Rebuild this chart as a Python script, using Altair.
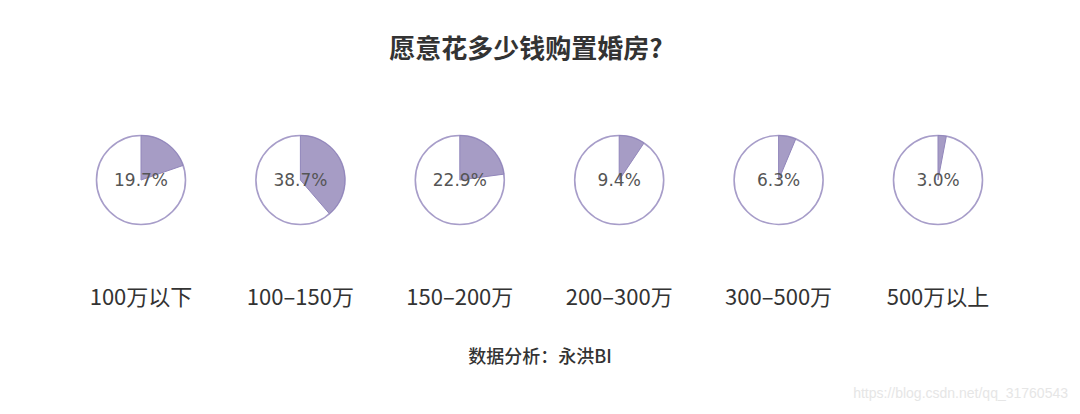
import altair as alt
import pandas as pd
import math

categories = ["100万以下", "100–150万", "150–200万", "200–300万", "300–500万", "500万以上"]
shares = [0.197, 0.387, 0.229, 0.094, 0.063, 0.030]
labels = ["19.7%", "38.7%", "22.9%", "9.4%", "6.3%", "3.0%"]
title_text = "愿意花多少钱购置婚房?"
footer_text = "数据分析：永洪BI"
watermark_text = "https://blog.csdn.net/qq_31760543"

df = pd.DataFrame({
    "cat": categories,
    "share": shares,
    "label": labels,
    "zero": [0.0] * len(categories),
    "full": [1.0] * len(categories),
})

W, H = 1064, 398
xscale = alt.Scale(domain=categories, type="point", range=[133, 930], padding=0)
tscale = alt.Scale(domain=[0, 1], range=[0, 2 * math.pi])
X = alt.X("cat:N", scale=xscale, axis=None)
cy = 172

base = alt.Chart(df)

circle = base.mark_arc(radius=44.5, fill="white", stroke="#a79dc9", strokeWidth=1.6).encode(
    x=X, y=alt.value(cy),
    theta=alt.Theta("zero:Q", scale=tscale), theta2="full",
)
wedge = base.mark_arc(radius=44.5, fill="#a69cc5", stroke="#9186bb", strokeWidth=1).encode(
    x=X, y=alt.value(cy),
    theta=alt.Theta("zero:Q", scale=tscale), theta2="share",
)
pct = base.mark_text(fontSize=17, color="#555555", font="DejaVu Sans", baseline="middle").encode(
    x=X, y=alt.value(cy + 1), text="label:N",
)
catlab = base.mark_text(fontSize=22, color="#333333", font="Noto Sans CJK SC",
                        baseline="middle").encode(
    x=X, y=alt.value(290), text="cat:N",
)

tdf = pd.DataFrame({"t": [title_text]})
title = alt.Chart(tdf).mark_text(fontSize=26, fontWeight="bold", color="#333333",
                                 font="Noto Sans CJK SC", baseline="middle").encode(
    x=alt.value(518), y=alt.value(42), text="t:N")

fdf = pd.DataFrame({"t": [footer_text]})
footer = alt.Chart(fdf).mark_text(fontSize=18, fontWeight=500, color="#333333",
                                  font="Noto Sans CJK SC", baseline="middle").encode(
    x=alt.value(532), y=alt.value(350), text="t:N")

wdf = pd.DataFrame({"t": [watermark_text]})
wm = alt.Chart(wdf).mark_text(fontSize=14, color="#e6e6e6", font="Liberation Sans",
                              align="right", baseline="middle").encode(
    x=alt.value(1060), y=alt.value(386), text="t:N")

chart = alt.layer(circle, wedge, pct, catlab, title, footer, wm).properties(
    width=W, height=H, padding=0, autosize=alt.AutoSizeParams(type="none")
).configure_view(stroke=None)

chart.save("out.html", embed_options={"renderer": "svg", "actions": False})
